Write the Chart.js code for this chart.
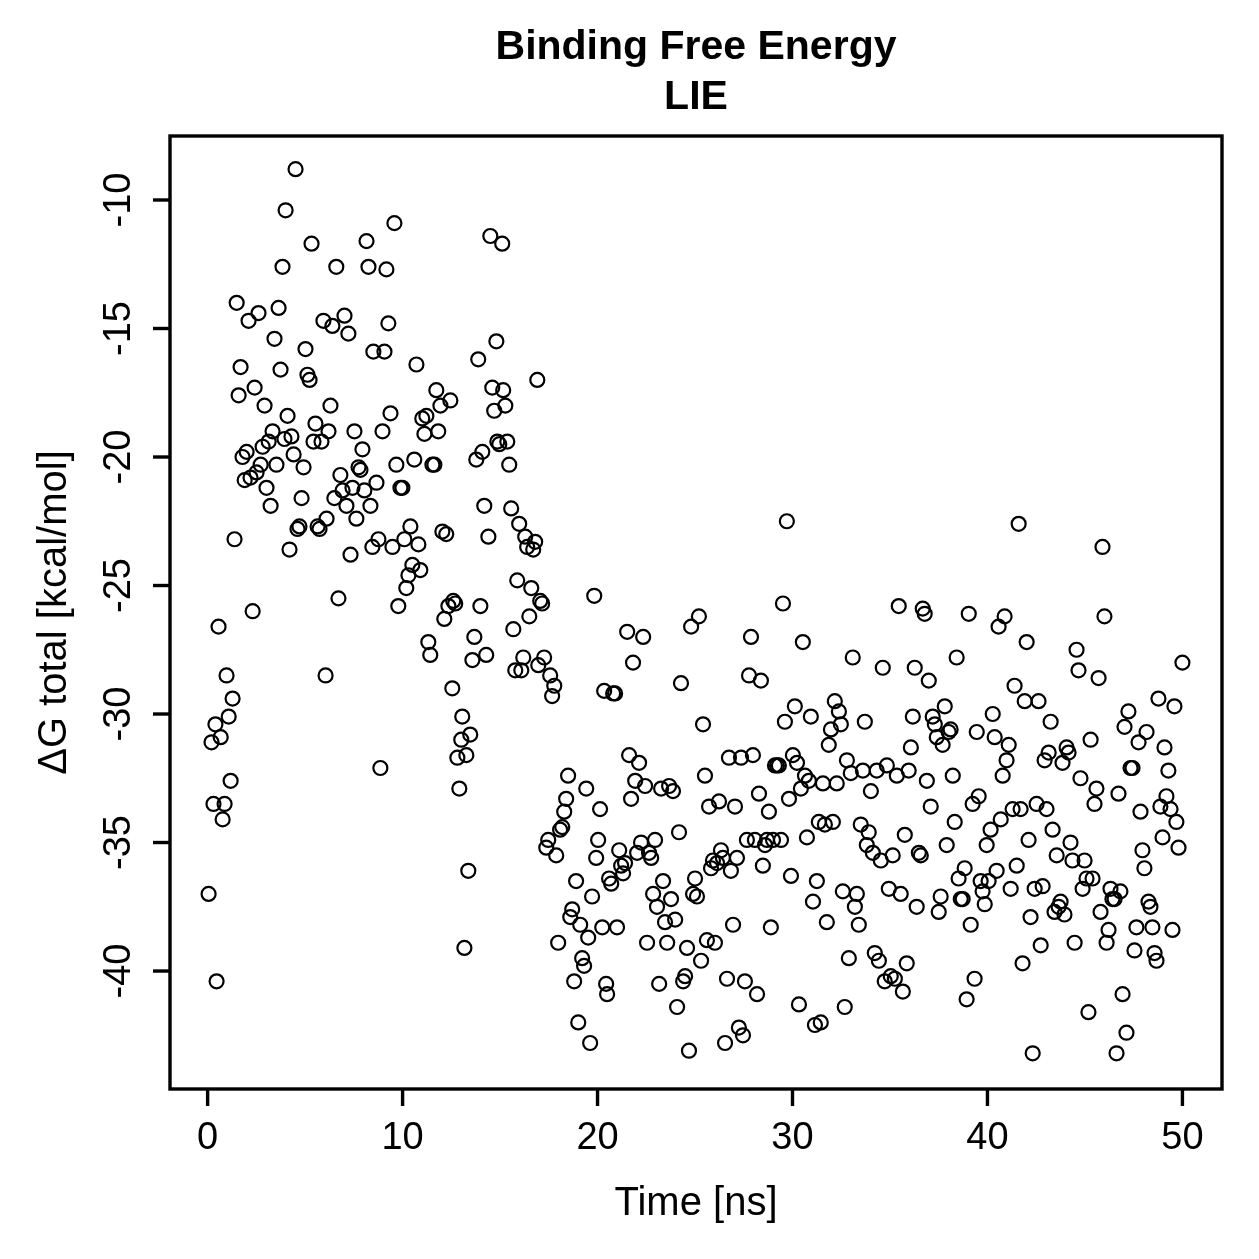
<!DOCTYPE html>
<html>
<head>
<meta charset="utf-8">
<script src="https://cdn.jsdelivr.net/npm/chart.js@4.4.0/dist/chart.umd.min.js"></script>
<style>
html, body { margin: 0; padding: 0; background: #fff; }
#wrap { width: 1259px; height: 1259px; position: relative; }
</style>
</head>
<body>
<div id="wrap"><canvas id="c"></canvas></div>
<script>
// ------------ Data ------------
const TIME = [
  0.05,0.2,0.3,0.4,0.46,0.56,0.67,0.77,0.87,0.97,
  1.08,1.18,1.28,1.38,1.49,1.59,1.69,1.79,1.9,2.0,
  2.1,2.2,2.31,2.41,2.51,2.61,2.72,2.82,2.92,3.02,
  3.13,3.23,3.33,3.43,3.53,3.64,3.74,3.84,3.94,4.0,
  4.1,4.2,4.3,4.41,4.51,4.61,4.71,4.82,4.92,5.02,
  5.12,5.23,5.33,5.43,5.53,5.64,5.74,5.84,5.94,6.05,
  6.1,6.2,6.3,6.4,6.5,6.6,6.71,6.81,6.92,7.02,
  7.12,7.22,7.33,7.43,7.53,7.63,7.74,7.84,7.94,8.04,
  8.15,8.25,8.35,8.45,8.5,8.66,8.76,8.86,8.97,9.07,
  9.17,9.27,9.38,9.48,9.58,9.68,9.78,9.89,9.99,10.09,
  10.19,10.3,10.4,10.5,10.6,10.71,10.81,10.91,11.01,11.12,
  11.22,11.32,11.42,11.53,11.63,11.73,11.83,11.94,12.04,12.14,
  12.24,12.35,12.45,12.55,12.6,12.7,12.81,12.91,13.01,13.06,
  13.17,13.27,13.37,13.47,13.58,13.68,13.78,13.88,13.99,14.09,
  14.19,14.29,14.4,14.5,14.6,14.7,14.81,14.86,14.96,15.11,
  15.16,15.27,15.37,15.47,15.57,15.68,15.78,15.88,15.98,16.09,
  16.19,16.29,16.39,16.5,16.6,16.7,16.8,16.91,16.96,17.06,
  17.16,17.26,17.37,17.47,17.57,17.67,17.78,17.88,17.98,18.08,
  18.19,18.29,18.39,18.49,18.60,18.70,18.80,18.90,19.01,19.11,
  19.21,19.31,19.42,19.52,19.62,19.72,19.83,19.93,20.03,20.13,
  20.24,20.34,20.44,20.49,20.59,20.70,20.80,20.90,21.00,21.11,
  21.21,21.31,21.41,21.52,21.62,21.72,21.82,21.93,22.03,22.13,
  22.23,22.34,22.44,22.54,22.64,22.75,22.85,22.95,23.05,23.16,
  23.26,23.36,23.46,23.57,23.67,23.77,23.87,23.98,24.08,24.18,
  24.28,24.39,24.49,24.59,24.69,24.80,24.90,25.00,25.10,25.20,
  25.31,25.41,25.51,25.61,25.72,25.82,25.92,26.02,26.13,26.23,
  26.33,26.43,26.54,26.64,26.74,26.84,26.95,27.05,27.15,27.25,
  27.36,27.46,27.56,27.66,27.77,27.87,27.97,28.07,28.18,28.28,
  28.38,28.48,28.59,28.69,28.79,28.89,29.00,29.10,29.20,29.30,
  29.41,29.51,29.61,29.71,29.82,29.92,30.02,30.12,30.23,30.33,
  30.43,30.53,30.64,30.74,30.84,30.94,31.05,31.15,31.25,31.35,
  31.45,31.56,31.66,31.76,31.86,31.97,32.07,32.17,32.27,32.38,
  32.48,32.58,32.68,32.79,32.89,32.99,33.09,33.20,33.30,33.40,
  33.50,33.61,33.71,33.81,33.91,34.02,34.12,34.22,34.32,34.43,
  34.53,34.63,34.73,34.84,34.94,35.04,35.14,35.25,35.35,35.45,
  35.55,35.66,35.76,35.86,35.96,36.07,36.17,36.27,36.37,36.48,
  36.58,36.68,36.78,36.89,36.99,37.09,37.19,37.30,37.40,37.50,
  37.60,37.70,37.81,37.91,38.01,38.11,38.22,38.32,38.42,38.52,
  38.63,38.73,38.83,38.93,39.04,39.14,39.24,39.34,39.45,39.55,
  39.65,39.75,39.86,39.96,40.06,40.16,40.27,40.37,40.47,40.57,
  40.68,40.78,40.88,40.98,41.09,41.19,41.29,41.39,41.50,41.60,
  41.70,41.80,41.91,42.01,42.11,42.21,42.32,42.42,42.52,42.62,
  42.73,42.83,42.93,43.03,43.14,43.24,43.34,43.44,43.55,43.65,
  43.75,43.85,43.95,44.06,44.16,44.26,44.36,44.47,44.57,44.67,
  44.77,44.88,44.98,45.08,45.18,45.29,45.39,45.49,45.59,45.70,
  45.80,45.90,46.00,46.11,46.21,46.31,46.41,46.52,46.62,46.72,
  46.82,46.93,47.03,47.13,47.23,47.34,47.44,47.54,47.64,47.75,
  47.85,47.95,48.05,48.16,48.26,48.36,48.46,48.57,48.67,48.77,
  48.87,48.98,49.08,49.18,49.28,49.39,49.49,49.59,49.69,49.80,
  50.00
];

const DG_TOTAL = [
  -37.0,-31.1,-33.5,-30.4,-40.4,-26.6,-30.9,-34.1,-33.5,-28.5,
  -30.1,-32.6,-29.4,-23.2,-14.0,-17.6,-16.5,-20.0,-20.9,-19.8,
  -14.7,-20.8,-26.0,-17.3,-20.6,-14.4,-20.3,-19.6,-18.0,-21.2,
  -19.4,-21.9,-19.0,-15.4,-20.3,-14.2,-16.6,-12.6,-19.3,-10.4,
  -18.4,-23.6,-19.2,-19.9,-8.8,-22.8,-22.7,-21.6,-20.4,-15.8,
  -16.8,-17.0,-11.7,-19.4,-18.7,-22.7,-22.8,-19.4,-14.7,-28.5,
  -22.4,-19.0,-18.0,-14.9,-21.6,-12.6,-25.5,-20.7,-21.3,-14.5,
  -21.9,-15.2,-23.8,-21.2,-19.0,-22.4,-20.4,-20.5,-19.7,-21.3,
  -11.6,-12.6,-21.9,-23.5,-15.9,-21.0,-23.2,-32.1,-19.0,-15.9,
  -12.7,-14.8,-18.3,-23.5,-10.9,-20.3,-25.8,-21.2,-21.2,-23.2,
  -25.1,-24.6,-22.7,-24.2,-20.1,-16.4,-23.4,-24.4,-18.5,-19.1,
  -18.4,-27.2,-27.7,-20.3,-20.3,-17.4,-19.0,-18.0,-22.9,-26.3,
  -23.0,-25.8,-17.8,-29.0,-25.6,-25.7,-31.7,-32.9,-31.0,-30.1,
  -39.1,-31.6,-36.1,-30.8,-27.9,-27.0,-20.1,-16.2,-25.8,-19.8,
  -21.9,-27.7,-23.1,-11.4,-17.3,-18.2,-15.5,-19.4,-19.5,-11.7,
  -17.4,-18.0,-19.4,-20.3,-22.0,-26.7,-28.3,-24.8,-22.6,-28.3,
  -27.8,-23.1,-23.5,-26.2,-25.1,-23.6,-23.3,-17.0,-28.1,-25.6,
  -25.7,-27.8,-35.2,-34.9,-28.5,-29.3,-28.9,-35.5,-38.9,-34.5,
  -34.4,-33.8,-33.3,-32.4,-37.9,-37.6,-40.4,-36.5,-42.0,-38.2,
  -39.5,-39.8,-32.9,-38.7,-42.8,-37.1,-25.4,-35.6,-34.9,-33.7,
  -38.3,-29.1,-40.5,-40.9,-36.4,-36.6,-29.2,-29.2,-38.3,-35.3,
  -35.9,-36.2,-35.8,-26.8,-31.6,-33.3,-28.0,-32.6,-35.4,-31.9,
  -35.0,-27.0,-32.8,-38.9,-35.4,-35.6,-37.0,-34.9,-37.5,-40.5,
  -32.9,-36.5,-38.1,-38.9,-32.8,-37.2,-33.0,-38.0,-41.4,-34.6,
  -28.8,-40.4,-40.2,-39.1,-43.1,-26.6,-37.0,-36.4,-37.1,-26.2,
  -39.6,-30.4,-32.4,-38.8,-33.6,-36.0,-35.7,-38.9,-35.8,-33.4,
  -35.3,-35.6,-42.8,-40.3,-31.7,-36.1,-38.2,-33.6,-35.6,-42.2,
  -31.7,-42.5,-40.4,-34.9,-28.5,-27.0,-31.6,-34.9,-40.9,-33.1,
  -28.7,-35.9,-35.1,-34.9,-33.8,-38.3,-34.9,-32.0,-32.0,-32.0,
  -34.9,-25.7,-30.3,-22.5,-33.3,-36.3,-31.6,-29.7,-31.9,-41.3,
  -32.9,-27.2,-32.4,-34.8,-32.6,-30.1,-37.3,-42.1,-36.5,-34.2,
  -42.0,-32.7,-34.3,-38.1,-31.2,-30.6,-34.2,-29.5,-32.7,-29.9,
  -30.4,-36.9,-41.4,-31.8,-39.5,-32.3,-27.8,-37.5,-37.0,-38.2,
  -34.3,-32.2,-30.3,-35.1,-34.6,-33.0,-35.4,-39.3,-32.2,-39.6,
  -35.7,-28.2,-40.4,-32.0,-36.8,-40.2,-35.5,-40.3,-32.4,-25.8,
  -37.0,-40.8,-34.7,-39.7,-32.2,-31.3,-30.1,-28.2,-37.5,-35.4,
  -35.5,-25.9,-26.1,-32.6,-28.7,-33.6,-30.1,-30.4,-30.9,-37.7,
  -37.1,-31.2,-29.7,-35.1,-30.7,-30.6,-32.4,-34.2,-27.8,-36.4,
  -37.2,-37.2,-36.0,-41.1,-26.1,-38.2,-33.5,-40.3,-30.7,-33.2,
  -36.5,-36.9,-37.4,-35.1,-36.5,-34.5,-30.0,-30.9,-36.1,-26.6,
  -34.1,-32.4,-26.2,-31.8,-31.2,-36.8,-33.7,-28.9,-35.9,-22.6,
  -33.7,-39.7,-29.5,-27.2,-34.9,-37.9,-43.2,-36.8,-33.5,-29.5,
  -39.0,-36.7,-31.8,-33.7,-31.5,-30.3,-34.5,-37.7,-35.5,-37.5,
  -37.3,-31.9,-37.8,-31.3,-31.5,-35.0,-35.7,-38.9,-27.5,-28.3,
  -32.5,-36.8,-35.7,-36.4,-41.6,-31.0,-36.4,-33.5,-32.9,-28.6,
  -37.7,-23.5,-26.2,-38.9,-38.4,-36.8,-37.2,-37.2,-43.2,-33.1,
  -36.9,-40.9,-30.5,-42.4,-29.9,-32.1,-32.1,-39.2,-38.3,-31.1,
  -33.8,-35.3,-36.0,-30.7,-37.3,-37.5,-38.3,-39.3,-39.6,-29.4,
  -33.6,-34.8,-31.3,-33.2,-32.2,-33.7,-38.4,-29.7,-34.2,-35.2,
  -28.0
];

const X_TICKS = [0, 10, 20, 30, 40, 50];
const Y_TICKS = [-10, -15, -20, -25, -30, -35, -40];
const TITLE_LINES = ["Binding Free Energy", "LIE"];
const X_TITLE = "Time [ns]";
const Y_TITLE = "\u0394G total [kcal/mol]";

const FONT = '"Liberation Sans", Arial, Helvetica, sans-serif';

// ------------ R-style box, ticks and labels ------------
const baseGraphics = {
  id: "baseGraphics",
  afterDraw(chart) {
    const { ctx, chartArea: a, scales: { x, y } } = chart;
    ctx.save();
    ctx.strokeStyle = "#000";
    ctx.fillStyle = "#000";
    ctx.lineWidth = 3.4;
    ctx.strokeRect(a.left, a.top, a.right - a.left, a.bottom - a.top);

    ctx.font = "38px " + FONT;
    ctx.textAlign = "center";
    ctx.textBaseline = "alphabetic";
    X_TICKS.forEach(v => {
      const px = x.getPixelForValue(v);
      ctx.beginPath(); ctx.moveTo(px, a.bottom); ctx.lineTo(px, a.bottom + 17); ctx.stroke();
      ctx.fillText(String(v), px, a.bottom + 60);
    });
    Y_TICKS.forEach(v => {
      const py = y.getPixelForValue(v);
      ctx.beginPath(); ctx.moveTo(a.left, py); ctx.lineTo(a.left - 17, py); ctx.stroke();
      ctx.save();
      ctx.translate(a.left - 40, py);
      ctx.rotate(-Math.PI / 2);
      ctx.fillText(String(v), 0, 0);
      ctx.restore();
    });

    // axis titles
    ctx.font = "40px " + FONT;
    ctx.fillText(X_TITLE, (a.left + a.right) / 2, 1215);
    ctx.save();
    ctx.translate(66, (a.top + a.bottom) / 2);
    ctx.rotate(-Math.PI / 2);
    ctx.fillText(Y_TITLE, 0, 0);
    ctx.restore();

    // main title
    ctx.font = "bold 41px " + FONT;
    ctx.fillText(TITLE_LINES[0], (a.left + a.right) / 2, 59);
    ctx.fillText(TITLE_LINES[1], (a.left + a.right) / 2, 109);
    ctx.restore();
  }
};

const points = TIME.map((t, i) => ({ x: t, y: DG_TOTAL[i] }));

new Chart(document.getElementById("c"), {
  type: "scatter",
  data: {
    datasets: [{
      data: points,
      pointStyle: "circle",
      pointRadius: 7,
      pointBorderWidth: 2.2,
      pointBackgroundColor: "rgba(0,0,0,0)",
      pointBorderColor: "#000"
    }]
  },
  options: {
    responsive: true,
    maintainAspectRatio: false,
    animation: false,
    events: [],
    layout: { padding: { left: 170, top: 136, right: 37, bottom: 170 } },
    scales: {
      x: { type: "linear", min: -1.93, max: 52.03, display: false },
      y: { type: "linear", min: -44.59, max: -7.51, display: false }
    },
    plugins: { legend: { display: false }, tooltip: { enabled: false } }
  },
  plugins: [baseGraphics]
});
</script>
</body>
</html>
